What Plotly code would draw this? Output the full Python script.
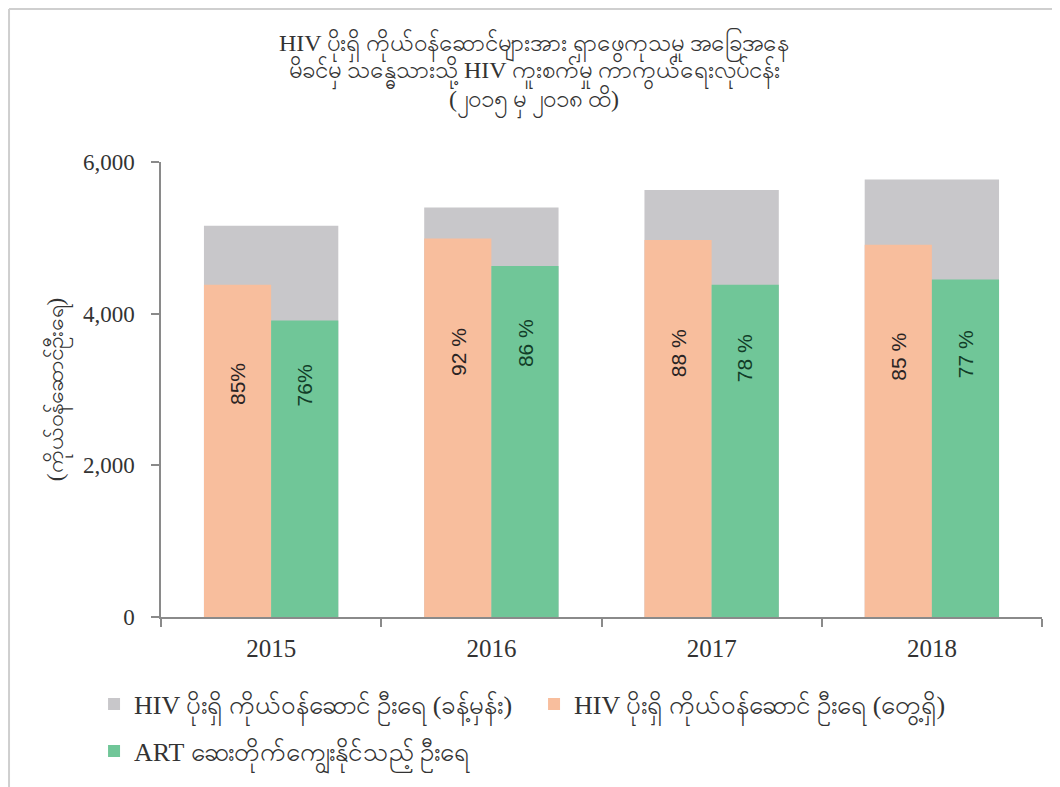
import plotly.graph_objects as go

years = ["2015", "2016", "2017", "2018"]
estimated = [5160, 5400, 5630, 5770]
detected = [4380, 4990, 4970, 4910]
art = [3910, 4630, 4380, 4450]
detected_pct = ["85%", "92 %", "88 %", "85 %"]
art_pct = ["76%", "86 %", "78 %", "77 %"]

name_est = "HIV ပိုးရှိ ကိုယ်ဝန်ဆောင် ဦးရေ (ခန့်မှန်း)"
name_det = "HIV ပိုးရှိ ကိုယ်ဝန်ဆောင် ဦးရေ (တွေ့ရှိ)"
name_art = "ART ဆေးတိုက်ကျွေးနိုင်သည့် ဦးရေ"
title_lines = [
    "HIV ပိုးရှိ ကိုယ်ဝန်ဆောင်များအား ရှာဖွေကုသမှု အခြေအနေ",
    "မိခင်မှ သန္ဓေသားသို့ HIV ကူးစက်မှု ကာကွယ်ရေးလုပ်ငန်း",
    "(၂၀၁၅ မှ ၂၀၁၈ ထိ)",
]
y_title = "(ကိုယ်ဝန်ဆောင်ဦးရေ)"
y_ticks = [0, 2000, 4000, 6000]

GRAY = "#C8C7CA"
ORANGE = "#F8BE9D"
GREEN = "#70C698"
SERIF = "Liberation Serif, DejaVu Serif, serif"
SANS = "Liberation Sans, Arial, sans-serif"
TXT = "#333333"

fig = go.Figure()
fig.add_trace(go.Bar(x=years, y=estimated, name=name_est, marker_color=GRAY,
                     width=0.61, offset=-0.305, marker_line_width=0,
                     legend="legend"))
fig.add_trace(go.Bar(x=years, y=detected, name=name_det, marker_color=ORANGE,
                     width=0.305, offset=-0.305, marker_line_width=0,
                     legend="legend"))
fig.add_trace(go.Bar(x=years, y=art, name=name_art, marker_color=GREEN,
                     width=0.305, offset=0.0, marker_line_width=0,
                     legend="legend2"))

annotations = []
for i, (v, t) in enumerate(zip(detected, detected_pct)):
    annotations.append(dict(x=i - 0.1525, y=v * 0.70, xref="x", yref="y", text=t,
                            showarrow=False, textangle=-90,
                            font=dict(family=SANS, size=21, color="#2a2424")))
for i, (v, t) in enumerate(zip(art, art_pct)):
    annotations.append(dict(x=i + 0.1525, y=v * 0.78, xref="x", yref="y", text=t,
                            showarrow=False, textangle=-90,
                            font=dict(family=SANS, size=21, color="#123d28")))
annotations.append(dict(x=-0.136, y=0.499, xref="paper", yref="paper", text=y_title,
                        showarrow=False, textangle=-90,
                        font=dict(family=SERIF, size=23, color=TXT)))
for line, ty in zip(title_lines, [1.257, 1.196, 1.134]):
    annotations.append(dict(x=0.4234, y=ty, xref="paper", yref="paper", text=line,
                            showarrow=False, xanchor="center", yanchor="middle",
                            font=dict(family=SERIF, size=24, color=TXT)))

fig.update_layout(
    width=1060, height=787,
    margin=dict(l=153, r=26, t=154, b=178),
    paper_bgcolor="white", plot_bgcolor="white",
    barmode="overlay",
    xaxis=dict(type="category", range=[-0.5, 3.5], showline=True,
               linecolor="#8a8a8a", linewidth=1.5, ticks="outside",
               tickson="boundaries", ticklen=8, tickcolor="#8a8a8a",
               tickwidth=1.5, showgrid=False, ticklabelstandoff=8,
               tickfont=dict(family=SERIF, size=25, color=TXT)),
    yaxis=dict(range=[0, 6000], tickvals=y_ticks, tickformat=",",
               showline=True, linecolor="#8a8a8a", linewidth=1.5,
               ticks="outside", ticklen=8, tickcolor="#8a8a8a", tickwidth=1.5,
               showgrid=False, zeroline=False, ticklabelstandoff=12,
               tickfont=dict(family=SERIF, size=23, color=TXT)),
    legend=dict(orientation="h", x=-0.076, y=-0.14, xanchor="left",
                yanchor="top", entrywidth=395,
                font=dict(family=SERIF, size=26, color=TXT)),
    legend2=dict(orientation="h", x=-0.076, y=-0.243, xanchor="left",
                 yanchor="top",
                 font=dict(family=SERIF, size=26, color=TXT)),
    annotations=annotations,
    shapes=[
        dict(type="line", xref="paper", yref="paper", x0=-0.1725, x1=-0.1725,
             y0=-0.375, y1=1.336, line=dict(color="#cfcfcf", width=2)),
        dict(type="line", xref="paper", yref="paper", x0=-0.1725, x1=1.016,
             y0=1.336, y1=1.336, line=dict(color="#cfcfcf", width=2)),
        dict(type="line", xref="paper", yref="paper", x0=1.016, x1=1.016,
             y0=-0.375, y1=1.336, line=dict(color="#dddddd", width=2)),
    ],
)

fig.write_html("out.html")
